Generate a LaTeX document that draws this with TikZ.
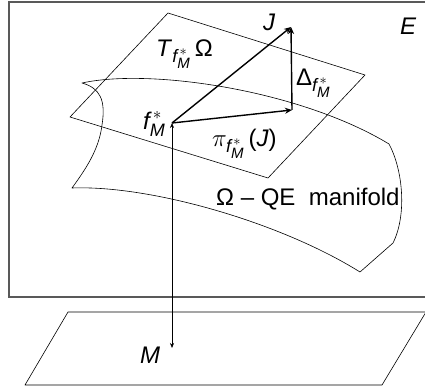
\documentclass[tikz,border=0pt]{standalone}
\usepackage{amsmath}
\usepackage{fontspec}
\setmainfont{Liberation Sans}
\usetikzlibrary{arrows.meta}
\DeclareMathSizes{24}{24}{18}{15}
\newcommand{\fM}{\textit{f}^{\,*}_{\textit{M}}}

\begin{document}
\begin{tikzpicture}[x=1pt,y=-1pt,
  thin/.style={line width=0.6pt,line join=round},
  frame/.style={line width=1.1pt,draw=black!65},
  vec/.style={line width=1.4pt,-{Stealth[length=7pt,width=6pt]}},
  proj/.style={line width=0.6pt,{Stealth[length=5pt,width=4pt]}-{Stealth[length=5pt,width=4pt]}},
  lbl/.style={anchor=base west,inner sep=0pt,font=\fontsize{24}{28}\selectfont}
]
\useasboundingbox (0,0) rectangle (425,390);
% space E
\draw[frame] (426,2) -- (9,2) -- (9,297) -- (426,297);
% manifold
\draw[thin] (82,83) .. controls (150,68) and (300,90) .. (389,144)
  .. controls (403,170) and (407,215) .. (393,243) -- (360,272)
  .. controls (280,222) and (150,185) .. (72,188)
  .. controls (85,170) and (99,150) .. (102,125)
  .. controls (106,100) and (100,88) .. cycle;
% tangent plane
\draw[thin] (168,13) -- (365,75) -- (268,178) -- (70,117) -- cycle;
% base M
\draw[thin] (68,312) -- (426,312) -- (382,385) -- (25,385) -- cycle;
% points
\coordinate (f) at (172,123);
\coordinate (J) at (291,27);
\coordinate (pJ) at (292,110);
\coordinate (M) at (172,348);
\draw[vec] (f) -- (J);
\draw[vec] (f) -- (pJ);
\draw[vec] (pJ) -- (J);
\draw[proj] (M) -- (f);
% labels
\node[lbl] (lJ) at (263,31) {\textit{J}};
\node[lbl] (lE) at (400,35) {\textit{E}};
\node[lbl] (lT) at (156,57) {\textit{T}$_{\fM}$\,Ω};
\node[lbl] (lD) at (296,86) {Δ$_{\fM}$};
\node[lbl] (lf) at (143,130) {$\fM$};
\node[lbl] (lp) at (212,147) {$\pi_{\fM}$\,(\textit{J})};
\node[lbl] (lm) at (216,205) {Ω – QE\ \ manifold};
\node[lbl] (lM) at (140,363) {\textit{M}};
\end{tikzpicture}
\end{document}
